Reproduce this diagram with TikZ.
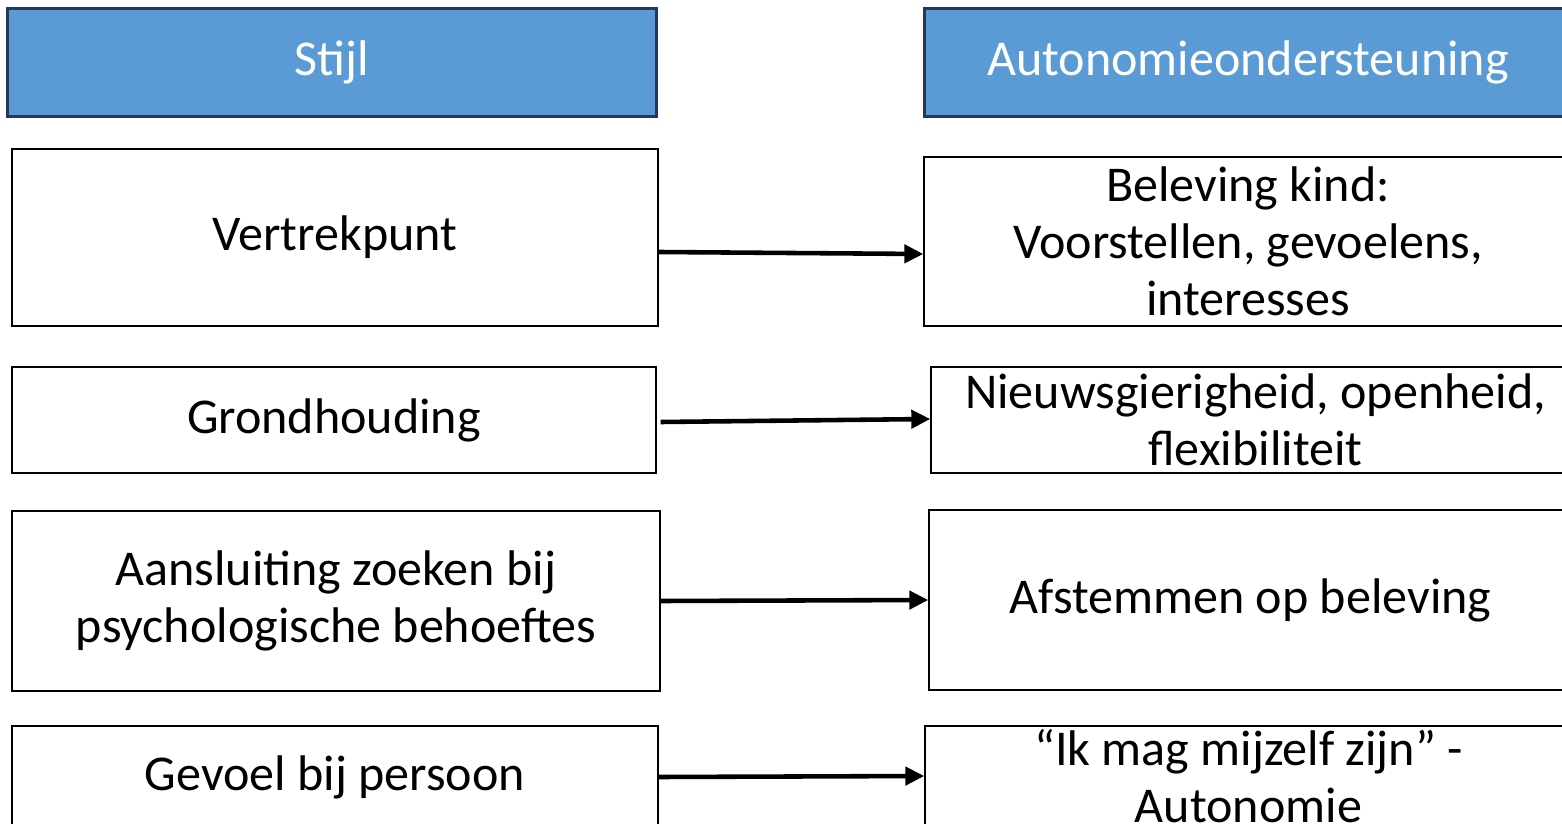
\documentclass[tikz,border=0pt]{standalone}
\usepackage{fontspec}
\setmainfont{Carlito}
\usetikzlibrary{arrows.meta}
\definecolor{headfill}{RGB}{91,155,213}
\definecolor{headline}{RGB}{34,58,87}
\tikzset{basic/.style={draw,align=center,inner sep=0pt,
                       font=\fontsize{28.5}{32.3}\selectfont}}
\tikzset{header/.style={basic,fill=headfill,draw=headline,line width=1.7pt,
                        text=white,minimum height=2.18cm}}
\tikzset{item/.style={basic,line width=0.85pt}}
\tikzset{link/.style={line width=2.6pt,-{Triangle[length=0.38cm,width=0.36cm]}}}

\begin{document}
\begin{tikzpicture}[x=0.02cm,y=-0.02cm]
  \useasboundingbox (0,0) rectangle (1562,824);

  \node (stijl) at (332, 62.5) [header, minimum width=13cm]{Stijl};
  \node (auto) at (1248, 62.5) [header, minimum width=12.96cm]{Autonomieondersteuning};

  \node (vertrek) at (335, 237.5) [item, minimum width=12.92cm, minimum height=3.54cm]{Vertrekpunt};
  \node (grond) at (334, 420) [item, minimum width=12.88cm, minimum height=2.12cm]{Grondhouding};
  \node (aansluit) at (336, 601) [item, minimum width=12.96cm, minimum height=3.6cm]{Aansluiting zoeken bij\\psychologische behoeftes};
  \node (gevoel) at (335, 777) [item, minimum width=12.92cm, minimum height=2.04cm]{Gevoel bij persoon};

  \node (beleving) at (1248, 241.5) [item, minimum width=12.96cm, minimum height=3.38cm]{Beleving kind:\\Voorstellen, gevoelens,\\interesses};
  \node (nieuws) at (1255.5, 420) [item, minimum width=12.98cm, minimum height=2.12cm]{Nieuwsgierigheid, openheid,\\flexibiliteit};
  \node (afstem) at (1250.5, 600) [item, minimum width=12.86cm, minimum height=3.6cm]{Afstemmen op beleving};
  \node (mijzelf) at (1248.5, 776) [item, minimum width=12.94cm, minimum height=2cm]{“Ik mag mijzelf zijn” -\\Autonomie};

  \draw[link] ([yshift=-0.29cm]vertrek.east) -- ([yshift=-0.25cm]beleving.west);
  \draw[link] ([xshift=0.08cm,yshift=-0.04cm]grond.east) -- ([yshift=0.02cm]nieuws.west);
  \draw[link] (aansluit.east) -- (afstem.west);
  \draw[link] (gevoel.east) -- (mijzelf.west);
\end{tikzpicture}
\end{document}
